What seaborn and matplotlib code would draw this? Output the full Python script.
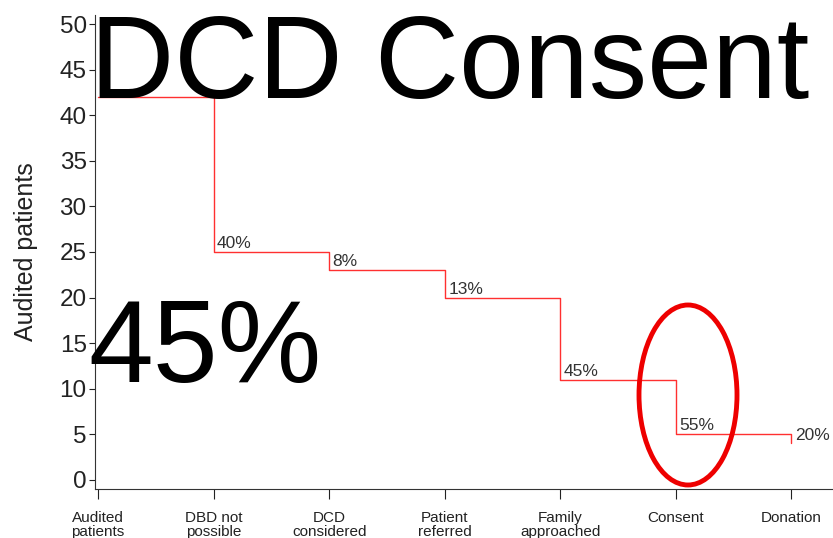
import matplotlib
matplotlib.use("Agg")
import matplotlib.pyplot as plt
from matplotlib.patches import Ellipse
import seaborn as sns
import pandas as pd

categories = ["Audited\npatients", "DBD not\npossible", "DCD\nconsidered", "Patient\nreferred",
              "Family\napproached", "Consent", "Donation"]
patients = [42, 25, 23, 20, 11, 5, 4]
drop_labels = ["", "40%", "8%", "13%", "45%", "55%", "20%"]

sns.set_style("ticks")
plt.rcParams['font.family'] = ['Liberation Sans', 'DejaVu Sans']

df = pd.DataFrame({"pos": range(len(categories)), "patients": patients})

fig = plt.figure(figsize=(8.33, 5.38), dpi=100)
ax = fig.add_axes([95/833, 49/538, 1 - 95/833, (489 - 15)/538])

sns.lineplot(data=df, x="pos", y="patients", ax=ax, color="#ff3030", linewidth=1.0,
             drawstyle="steps-post")

for i, (v, lab) in enumerate(zip(patients, drop_labels)):
    if lab:
        ax.text(i + 0.03, v + 0.1, lab, fontsize=12.5, color="#333333", ha="left", va="bottom")

ax.set_xlim(-0.026, 6.36)
ax.set_ylim(-1, 51)
ax.set_yticks(range(0, 51, 5))
ax.set_xticks(range(len(categories)))
ax.set_xticklabels(categories, fontsize=11, color="#222222", linespacing=1.0)
ax.tick_params(axis="y", labelsize=17.5, colors="#222222", length=4, width=0.8, pad=2)
ax.tick_params(axis="x", length=7, width=0.8, colors="#222222", pad=9)
ax.set_xlabel("")
ax.set_ylabel("Audited patients", fontsize=18, color="#222222")
ax.yaxis.set_label_coords(-57/738, 0.5)
sns.despine(ax=ax)
for s in ["left", "bottom"]:
    ax.spines[s].set_color("#333333")
    ax.spines[s].set_linewidth(0.8)

fig.text(90/833, 1 - 98/538, "DCD Consent", fontsize=84, color="black", ha="left", va="baseline")
fig.text(88/833, 1 - 382/538, "45%", fontsize=84, color="black", ha="left", va="baseline")

ell = Ellipse((688/833, 1 - 395/538), 98/833, 180/538, transform=fig.transFigure,
              fill=False, edgecolor="#ee0000", linewidth=3.5)
fig.add_artist(ell)

fig.savefig("out.png", dpi=100)
